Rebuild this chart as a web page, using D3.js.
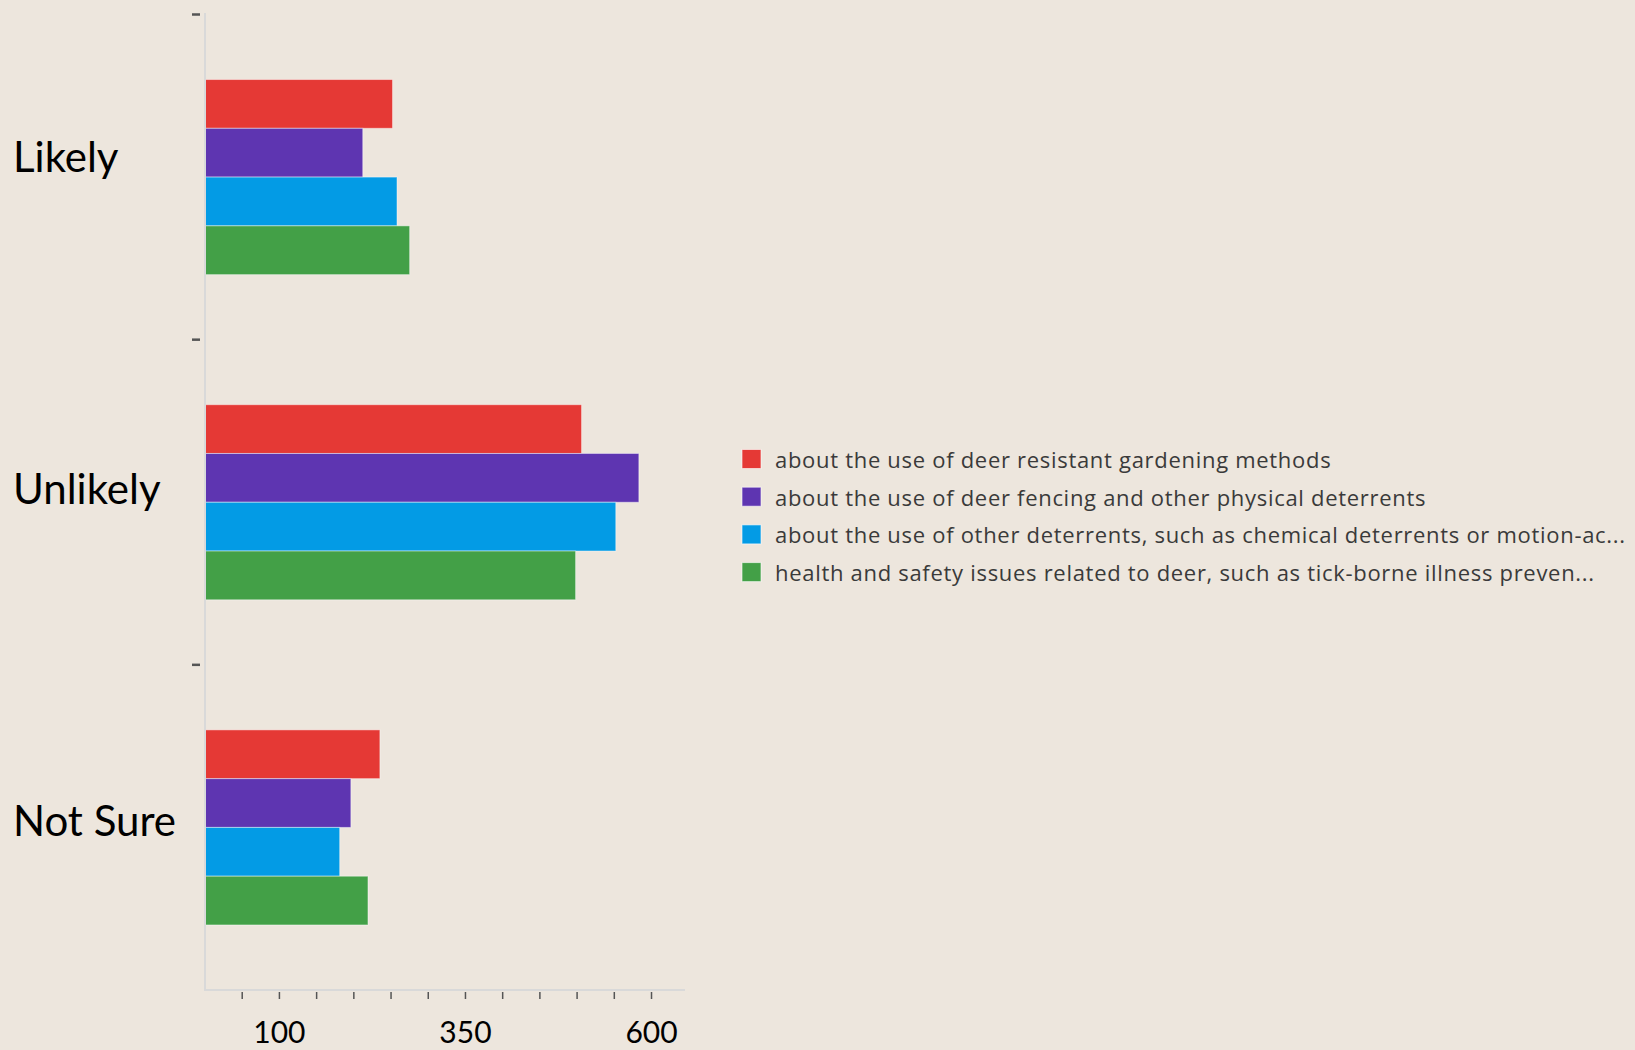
<!DOCTYPE html>
<html>
<head>
<meta charset="utf-8">
<script src="https://cdn.jsdelivr.net/npm/d3@7"></script>
<style>
  html, body { margin: 0; padding: 0; background: #ede6dd; }
  svg { display: block; }
</style>
</head>
<body>
<svg id="chart" width="1635" height="1050"></svg>
<script>
// ---- data ----
const categories = ["Likely", "Unlikely", "Not Sure"];
const seriesNames = [
  "about the use of deer resistant gardening methods",
  "about the use of deer fencing and other physical deterrents",
  "about the use of other deterrents, such as chemical deterrents or motion-ac...",
  "health and safety issues related to deer, such as tick-borne illness preven..."
];
const seriesColors = ["#e53935", "#5e35b1", "#039be5", "#43a047"];
const resistantValues = [252, 506, 235];
const fencingValues = [212, 583, 196];
const otherDeterrentValues = [258, 552, 181];
const healthValues = [275, 498, 219];
const tickValues = [50, 100, 150, 200, 250, 300, 350, 400, 450, 500, 550, 600];
const tickLabels = [100, 350, 600];

const seriesValues = [resistantValues, fencingValues, otherDeterrentValues, healthValues];

// ---- layout ----
const svg = d3.select("#chart");
const x = d3.scaleLinear().domain([0, 645]).range([205, 685]);
const y = d3.scaleBand().domain(categories).range([14.5, 990]).paddingInner(0).paddingOuter(0);
const ySub = d3.scaleBand().domain(d3.range(seriesNames.length))
  .range([y.bandwidth() * 0.2, y.bandwidth() * 0.8]).padding(0);
const labelY = d3.scalePoint().domain(categories).range([172, 836]);

// bars
categories.forEach((cat, ci) => {
  const g = svg.append("g").attr("transform", `translate(0,${y(cat)})`);
  g.selectAll("rect")
    .data(seriesValues.map((vals, si) => ({ si, v: vals[ci] })))
    .join("rect")
    .attr("x", x(0))
    .attr("y", d => ySub(d.si))
    .attr("width", d => x(d.v) - x(0))
    .attr("height", ySub.bandwidth())
    .attr("fill", d => seriesColors[d.si])
    .attr("stroke", "rgba(255,255,255,0.45)")
    .attr("stroke-width", 1);
});

// y axis line
svg.append("line")
  .attr("x1", x(0)).attr("x2", x(0))
  .attr("y1", 13).attr("y2", y.range()[1])
  .attr("stroke", "#d9d9d9").attr("stroke-width", 2);

// y ticks at band starts
svg.selectAll(".ytick").data(categories).join("line")
  .attr("class", "ytick")
  .attr("x1", x(0) - 13).attr("x2", x(0) - 5)
  .attr("y1", d => y(d)).attr("y2", d => y(d))
  .attr("stroke", "#555").attr("stroke-width", 2.5);

// x axis line
svg.append("line")
  .attr("x1", x(0) - 1).attr("x2", x.range()[1])
  .attr("y1", 990).attr("y2", 990)
  .attr("stroke", "#d9d9d9").attr("stroke-width", 2);

// x ticks
svg.selectAll(".xtick").data(tickValues).join("line")
  .attr("class", "xtick")
  .attr("x1", d => x(d)).attr("x2", d => x(d))
  .attr("y1", 992).attr("y2", 999)
  .attr("stroke", "#555").attr("stroke-width", 1.5);

// x tick labels
svg.selectAll(".xlabel").data(tickLabels).join("text")
  .attr("class", "xlabel")
  .attr("x", d => x(d))
  .attr("y", 1043)
  .attr("text-anchor", "middle")
  .attr("font-family", "Lato, sans-serif")
  .attr("font-size", 30)
  .attr("fill", "#000")
  .text(d => d);

// category labels
svg.selectAll(".catlabel").data(categories).join("text")
  .attr("class", "catlabel")
  .attr("x", 13)
  .attr("y", d => labelY(d))
  .attr("font-family", "Lato, sans-serif")
  .attr("font-size", 42)
  .attr("fill", "#000")
  .text(d => d);

// legend
const legend = svg.append("g").attr("transform", "translate(742,459)");
const rows = legend.selectAll("g").data(seriesNames).join("g")
  .attr("transform", (d, i) => `translate(0,${i * 37.7})`);
rows.append("rect")
  .attr("x", 0).attr("y", -9.5)
  .attr("width", 19).attr("height", 19)
  .attr("fill", (d, i) => seriesColors[i])
  .attr("stroke", "rgba(255,255,255,0.6)").attr("stroke-width", 1);
rows.append("text")
  .attr("x", 33).attr("y", 9)
  .attr("font-family", "'Open Sans', sans-serif")
  .attr("font-size", 22)
  .attr("letter-spacing", 0.7)
  .attr("fill", "#3a3a3a")
  .text(d => d);
</script>
</body>
</html>
